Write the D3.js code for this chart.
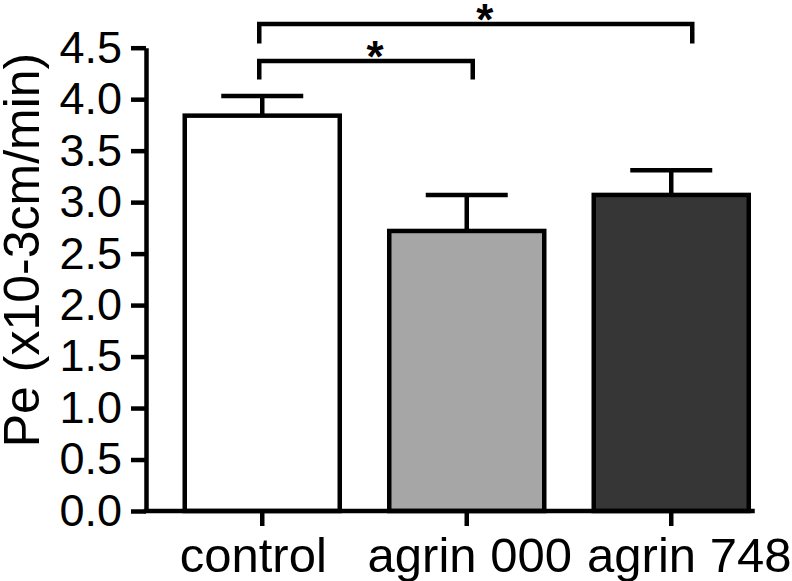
<!DOCTYPE html>
<html>
<head>
<meta charset="utf-8">
<script src="https://cdn.jsdelivr.net/npm/d3@7"></script>
<style>
  body { margin: 0; background: #fff; }
  text { font-family: "Liberation Sans", Arial, sans-serif; fill: #000; }
</style>
</head>
<body>
<div id="viz_area"></div>
<script>
// values
var groups = ["control", "agrin 000", "agrin 748"];
var means = [3.84, 2.72, 3.07];
var sems = [0.19, 0.35, 0.24];
var fills = ["#ffffff", "#a6a6a6", "#363636"];
var yTicks = [0, 0.5, 1, 1.5, 2, 2.5, 3, 3.5, 4, 4.5];
// significance brackets (levels in data units)
var sigFrom = ["control", "control"];
var sigTo = ["agrin 000", "agrin 748"];
var sigLevel = [4.37, 4.73];
var sigLegEnd = [4.19, 4.54];
var sigLabel = ["*", "*"];

function __init__() {
    barChart();
}

function barChart() {
    var w = 792;
    var h = 581;
    var sw = 4.5;

    var svg = d3.select("#viz_area")
                .append("svg")
                .attr("width", w)
                .attr("height", h);

    var x = d3.scaleBand()
              .domain(groups)
              .range([160, 773.5])
              .paddingInner(0.242)
              .paddingOuter(0.121);

    var y = d3.scaleLinear()
              .domain([0, 4.5])
              .range([511, 47.7]);

    var axisX = 146;

    var data = groups.map(function(g, i) {
        return { name: g, mean: means[i], sem: sems[i], fill: fills[i] };
    });

    // bars
    svg.selectAll("rect.bar")
       .data(data)
       .enter()
       .append("rect")
       .attr("class", "bar")
       .attr("x", (d) => x(d.name))
       .attr("width", x.bandwidth())
       .attr("y", (d) => y(d.mean))
       .attr("height", (d) => y(0) - y(d.mean))
       .style("fill", (d) => d.fill)
       .style("stroke", "#000")
       .style("stroke-width", sw);

    // error bars (upper only)
    var capW = 82;
    var err = svg.selectAll("g.err")
                 .data(data)
                 .enter()
                 .append("g")
                 .attr("class", "err");
    err.append("line")
       .attr("x1", (d) => x(d.name) + x.bandwidth() / 2)
       .attr("x2", (d) => x(d.name) + x.bandwidth() / 2)
       .attr("y1", (d) => y(d.mean))
       .attr("y2", (d) => y(d.mean + d.sem))
       .style("stroke", "#000")
       .style("stroke-width", sw);
    err.append("line")
       .attr("x1", (d) => x(d.name) + x.bandwidth() / 2 - capW / 2)
       .attr("x2", (d) => x(d.name) + x.bandwidth() / 2 + capW / 2)
       .attr("y1", (d) => y(d.mean + d.sem))
       .attr("y2", (d) => y(d.mean + d.sem))
       .style("stroke", "#000")
       .style("stroke-width", sw);

    // y axis
    var gy = svg.append("g")
                .attr("transform", "translate(" + axisX + ",0)")
                .call(d3.axisLeft(y)
                        .tickValues(yTicks)
                        .tickFormat(d3.format(".1f"))
                        .tickSize(15)
                        .tickSizeOuter(0)
                        .tickPadding(9));
    gy.selectAll("path, line").style("stroke", "#000").style("stroke-width", sw);
    gy.selectAll("text")
      .style("font-size", "45px")
      .style("font-family", "'Liberation Sans', Arial, sans-serif");

    // x axis
    var labelShift = { "control": -9, "agrin 000": 3, "agrin 748": 18 };
    var gx = svg.append("g")
                .attr("transform", "translate(0," + y(0) + ")")
                .call(d3.axisBottom(x)
                        .tickSize(15)
                        .tickSizeOuter(0)
                        .tickPadding(11));
    gx.select(".domain").remove();
    gx.selectAll("line").style("stroke", "#000").style("stroke-width", sw);
    gx.selectAll("text")
      .attr("dx", (d) => labelShift[d])
      .style("font-size", "49px")
      .style("font-family", "'Liberation Sans', Arial, sans-serif");
    gx.append("line")
      .attr("x1", axisX - sw / 2)
      .attr("x2", x(groups[groups.length - 1]) + x.bandwidth() + 6)
      .attr("y1", 0)
      .attr("y2", 0)
      .style("stroke", "#000")
      .style("stroke-width", sw);

    // y axis title
    svg.append("text")
       .attr("transform", "translate(39," + 250 + ") rotate(-90)")
       .attr("text-anchor", "middle")
       .style("font-size", "50px")
       .text("Pe (x10-3cm/min)");

    // significance brackets
    var legShift = { "control": -3, "agrin 000": 6, "agrin 748": 21 };
    var sig = sigFrom.map(function(f, i) {
        return { from: f, to: sigTo[i], level: sigLevel[i], legEnd: sigLegEnd[i], label: sigLabel[i] };
    });
    var cx = (n) => x(n) + x.bandwidth() / 2 + legShift[n];

    var br = svg.selectAll("g.sig")
                .data(sig)
                .enter()
                .append("g")
                .attr("class", "sig");
    br.append("path")
      .attr("d", function(d) {
          return "M" + cx(d.from) + "," + y(d.legEnd) +
                 "V" + y(d.level) +
                 "H" + cx(d.to) +
                 "V" + y(d.legEnd);
      })
      .style("fill", "none")
      .style("stroke", "#000")
      .style("stroke-width", sw);
    br.append("text")
      .attr("x", (d) => (cx(d.from) + cx(d.to)) / 2 + 9)
      .attr("y", (d) => y(d.level) + 11)
      .attr("text-anchor", "middle")
      .style("font-size", "44px")
      .style("font-weight", "bold")
      .text((d) => d.label);
}

window.onload = __init__;
</script>
</body>
</html>
